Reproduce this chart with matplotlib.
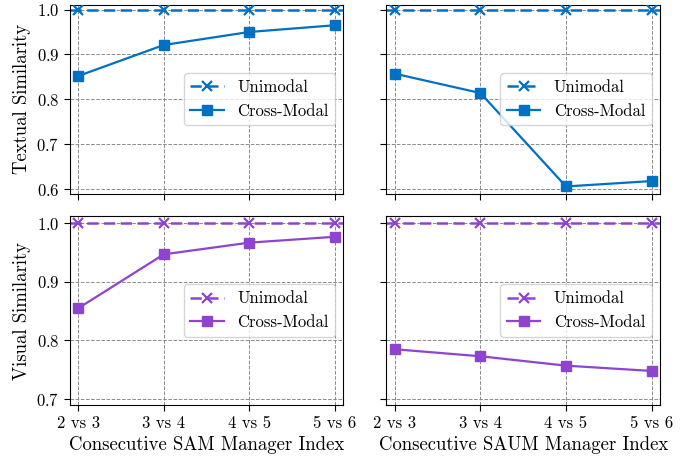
import matplotlib
matplotlib.use('Agg')
import matplotlib.pyplot as plt
from matplotlib.lines import Line2D

pairs = ['2 vs 3', '3 vs 4', '4 vs 5', '5 vs 6']
sam_text_uni = [1.0, 1.0, 1.0, 1.0]
sam_text_cross = [0.852, 0.921, 0.950, 0.965]
saum_text_uni = [1.0, 1.0, 1.0, 1.0]
saum_text_cross = [0.857, 0.814, 0.606, 0.618]
sam_vis_uni = [1.0, 1.0, 1.0, 1.0]
sam_vis_cross = [0.855, 0.947, 0.967, 0.977]
saum_vis_uni = [1.0, 1.0, 1.0, 1.0]
saum_vis_cross = [0.785, 0.773, 0.757, 0.748]

blue = '#0070C4'
purple = '#8E44D0'

plt.rcParams['font.family'] = 'cmr10'
plt.rcParams['mathtext.fontset'] = 'cm'
plt.rcParams['axes.formatter.use_mathtext'] = True
plt.rcParams['font.size'] = 12

fig, axes = plt.subplots(2, 2, figsize=(6.97, 4.57), dpi=100)

panels = [
    (axes[0, 0], sam_text_uni, sam_text_cross, blue),
    (axes[0, 1], saum_text_uni, saum_text_cross, blue),
    (axes[1, 0], sam_vis_uni, sam_vis_cross, purple),
    (axes[1, 1], saum_vis_uni, saum_vis_cross, purple),
]

dash = (4.5, 2.2)
x = list(range(len(pairs)))
for ax, uni, cross, c in panels:
    # unimodal is a constant line running across the whole panel
    ax.axhline(uni[0], color=c, lw=1.8, ls=(0, dash), zorder=2)
    ax.plot(x, uni, ls='none', marker='x', color=c, ms=7.5, mew=1.6, zorder=3)
    ax.plot(x, cross, '-', marker='s', color=c, lw=1.6, ms=7.5, zorder=3)
    uni_h = Line2D([], [], color=c, lw=1.8, ls=(0, dash), marker='x', ms=7.5, mew=1.6)
    cross_h = Line2D([], [], color=c, lw=1.6, marker='s', ms=7.5)
    ax.legend([uni_h, cross_h], ['Unimodal', 'Cross-Modal'], loc='center right', fontsize=12)
    ax.set_xlim(-0.1, 3.1)
    ax.set_xticks(x)
    ax.grid(True, ls='--', color='gray', lw=0.7, alpha=0.9)
    ax.tick_params(direction='out', length=4, labelsize=12)

for ax in axes[0]:
    ax.set_ylim(0.59, 1.01)
    ax.set_yticks([0.6, 0.7, 0.8, 0.9, 1.0])
    ax.set_xticklabels([])
for ax in axes[1]:
    ax.set_ylim(0.69, 1.012)
    ax.set_yticks([0.7, 0.8, 0.9, 1.0])
    ax.set_xticklabels(pairs)
for ax in axes[:, 1]:
    ax.set_yticklabels([])

axes[0, 0].set_ylabel('Textual Similarity', fontsize=13.5)
axes[1, 0].set_ylabel('Visual Similarity', fontsize=13.5)
axes[1, 0].set_xlabel('Consecutive SAM Manager Index', fontsize=13.5)
axes[1, 1].set_xlabel('Consecutive SAUM Manager Index', fontsize=13.5)

fig.subplots_adjust(left=0.1, right=0.947, top=0.989, bottom=0.114, wspace=0.157, hspace=0.12)
fig.savefig('out.png', dpi=100)
